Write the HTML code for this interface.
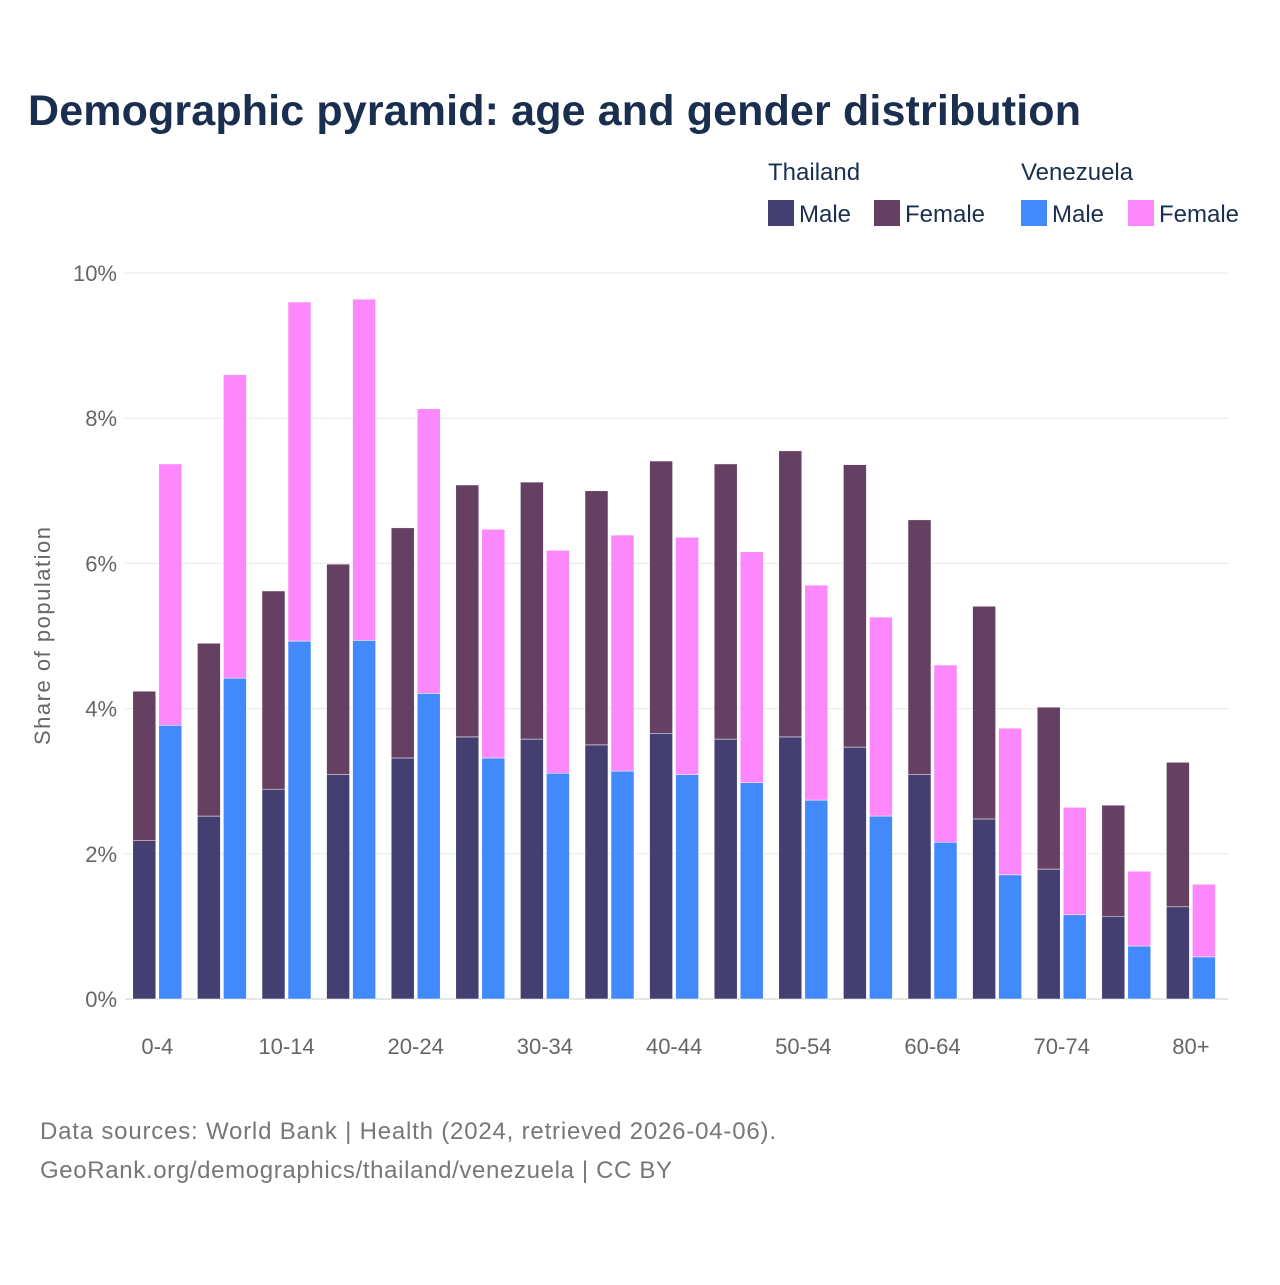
<!DOCTYPE html>
<html><head><meta charset="utf-8"><style>
body{margin:0;background:#fff;font-family:"Liberation Sans",sans-serif}
svg text{font-family:"Liberation Sans",sans-serif}
</style></head><body>
<svg id="c" width="1280" height="1280" xmlns="http://www.w3.org/2000/svg">
<text x="28" y="125" font-size="43" font-weight="bold" fill="#1a2f4f" textLength="1053">Demographic pyramid: age and gender distribution</text>
<g font-size="24" fill="#1a2f4f">
<text x="768" y="180">Thailand</text>
<text x="1021" y="180">Venezuela</text>
<rect x="768" y="200" width="26" height="26" fill="#433f70"/>
<text x="799" y="222">Male</text>
<rect x="874" y="200" width="26" height="26" fill="#664063"/>
<text x="905" y="222">Female</text>
<rect x="1021" y="200" width="26" height="26" fill="#428afc"/>
<text x="1052" y="222">Male</text>
<rect x="1128" y="200" width="26" height="26" fill="#fc88fc"/>
<text x="1159" y="222">Female</text>
</g>
<text transform="translate(50,636) rotate(-90)" text-anchor="middle" font-size="22" fill="#666" textLength="218">Share of population</text>
<g id="grid"></g><g id="bars"></g><g id="xt"></g>
<text x="40" y="1139" font-size="24" fill="#777" textLength="736">Data sources: World Bank | Health (2024, retrieved 2026-04-06).</text>
<text x="40" y="1178" font-size="24" fill="#777" textLength="632">GeoRank.org/demographics/thailand/venezuela | CC BY</text>
</svg>
<script>
const categories=["0-4","5-9","10-14","15-19","20-24","25-29","30-34","35-39","40-44","45-49","50-54","55-59","60-64","65-69","70-74","75-79","80+"];
const thMale=[2.18,2.52,2.89,3.09,3.32,3.61,3.58,3.50,3.66,3.58,3.61,3.47,3.09,2.48,1.79,1.14,1.27];
const thFemale=[2.06,2.38,2.73,2.90,3.17,3.47,3.54,3.50,3.75,3.79,3.94,3.89,3.51,2.93,2.23,1.53,1.99];
const veMale=[3.77,4.42,4.93,4.94,4.21,3.32,3.11,3.14,3.09,2.98,2.74,2.52,2.16,1.71,1.16,0.73,0.58];
const veFemale=[3.60,4.18,4.67,4.70,3.92,3.15,3.07,3.25,3.27,3.18,2.96,2.74,2.44,2.02,1.48,1.03,1.00];
const yTicks=[0,2,4,6,8,10];
const NS="http://www.w3.org/2000/svg";
const y0=999,pxPer=72.6,x0=125,band=64.6;
const y=v=>y0-v*pxPer;
const xc=i=>x0+band*(i+0.5);
function mk(tag,attrs,parent){const e=document.createElementNS(NS,tag);for(const k in attrs)e.setAttribute(k,attrs[k]);parent.appendChild(e);return e;}
const grid=document.getElementById('grid');
yTicks.forEach(t=>{
  const l=mk('line',{x1:125,x2:1228,y1:y(t),y2:y(t),stroke:t===0?'#ccc':'#e8e8e8','stroke-width':1},grid);
  
  
  const tx=mk('text',{x:117,y:y(t)+8,'text-anchor':'end','font-size':22,fill:'#666'},grid);
  tx.textContent=t+'%';
  
  
});
const bars=document.getElementById('bars');
function bar(x,v0,v1,col,name){
  const r=mk('rect',{x:x,y:y(v1),width:23,height:y(v0)-y(v1),fill:col,stroke:'#fff','stroke-width':0.5},bars);
  
  
}
categories.forEach((c,i)=>{
  const cx=xc(i);
  bar(cx-24.5,0,thMale[i],'#433f70','bar-th-male');
  bar(cx-24.5,thMale[i],thMale[i]+thFemale[i],'#664063','bar-th-female');
  bar(cx+1.5,0,veMale[i],'#428afc','bar-ve-male');
  bar(cx+1.5,veMale[i],veMale[i]+veFemale[i],'#fc88fc','bar-ve-female');
  if(i%2===0){
    const t=mk('text',{x:cx,y:1054,'text-anchor':'middle','font-size':22,fill:'#666'},document.getElementById('xt'));
    t.textContent=c;
    
    
  }
});
</script>
</body></html>
